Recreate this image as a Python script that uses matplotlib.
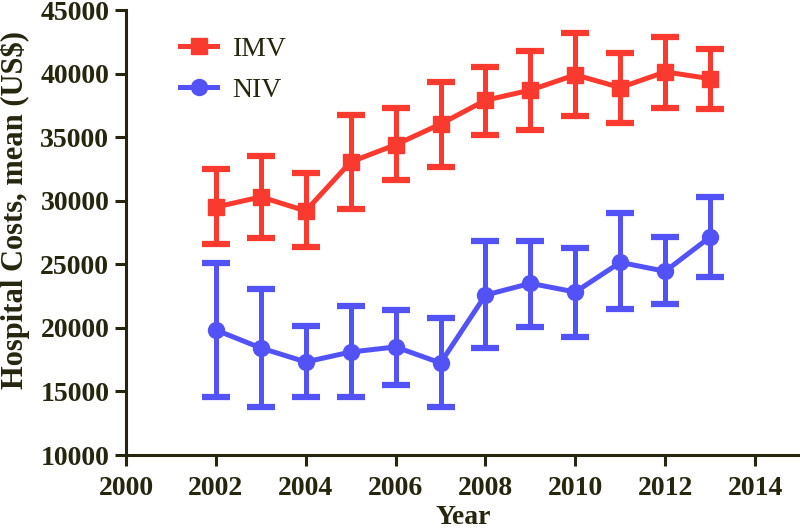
import matplotlib
matplotlib.use("Agg")
import matplotlib.pyplot as plt
import numpy as np

DPI = 100

years = [2002, 2003, 2004, 2005, 2006, 2007, 2008, 2009, 2010, 2011, 2012, 2013]

imv_mean = [29500, 30300, 29200, 33050, 34400, 36030, 37900, 38700, 39900, 38900, 40130, 39600]
imv_low = [26600, 27070, 26360, 29350, 31630, 32650, 35170, 35560, 36660, 36110, 37290, 37210]
imv_high = [32500, 33520, 32180, 36740, 37290, 39340, 40520, 41780, 43190, 41620, 42880, 41940]

niv_mean = [19830, 18420, 17320, 18100, 18500, 17240, 22580, 23500, 22820, 25150, 24450, 27150]
niv_low = [14560, 13780, 14560, 14560, 15510, 13780, 18420, 20070, 19280, 21480, 21880, 24000]
niv_high = [25100, 23060, 20150, 21720, 21400, 20780, 26830, 26830, 26280, 29030, 27150, 30290]

x_ticks = [2000, 2002, 2004, 2006, 2008, 2010, 2012, 2014]
y_ticks = [10000, 15000, 20000, 25000, 30000, 35000, 40000, 45000]

RED = "#fa3a2e"
BLUE = "#5252f7"
DARK = "#26260f"

plt.rcParams['font.family'] = ['Liberation Serif', 'DejaVu Serif']

fig = plt.figure(figsize=(800/DPI, 532/DPI), dpi=DPI)
ax = fig.add_axes([0.1575, 0.1447, 0.8425, 0.8365])


def series(mean, low, high, color, marker, msize, label):
    mean = np.array(mean)
    yerr = [mean - np.array(low), np.array(high) - mean]
    cont = ax.errorbar(years, mean, yerr=yerr, color=color, marker=marker,
                       markersize=msize, linewidth=3.6, elinewidth=3.6,
                       capsize=10, capthick=4.5, label=label, clip_on=False)
    return cont.lines[0]


h1 = series(imv_mean, imv_low, imv_high, RED, 's', 11, 'IMV')
h2 = series(niv_mean, niv_low, niv_high, BLUE, 'o', 11.5, 'NIV')

ax.set_xlim(2000, 2015)
ax.set_ylim(10000, 45000)
ax.set_xticks(x_ticks)
ax.set_yticks(y_ticks)

for side in ['top', 'right']:
    ax.spines[side].set_visible(False)
for side in ['left', 'bottom']:
    ax.spines[side].set_color(DARK)
    ax.spines[side].set_linewidth(2.2)

ax.tick_params(axis='both', direction='out', length=8, width=2.2, color=DARK,
               labelsize=20, labelcolor=DARK, pad=4)
ax.tick_params(axis='x', pad=7)
for lab in ax.get_xticklabels() + ax.get_yticklabels():
    lab.set_fontweight('bold')

ax.set_xlabel('Year', fontsize=20, fontweight='bold', color=DARK, labelpad=3)
ax.set_ylabel('Hospital Costs, mean (US$)', fontsize=22, fontweight='bold',
              color=DARK)
ax.yaxis.set_label_coords(-0.143, 0.55)

leg = ax.legend([h1, h2], ['IMV', 'NIV'], loc='upper left',
                bbox_to_anchor=(0.08, 0.94), frameon=False, borderpad=0,
                borderaxespad=0, fontsize=20, handlelength=1.35,
                labelspacing=0.55, handletextpad=0.55)
for t in leg.get_texts():
    t.set_color(DARK)

fig.savefig('out.png', dpi=DPI)
